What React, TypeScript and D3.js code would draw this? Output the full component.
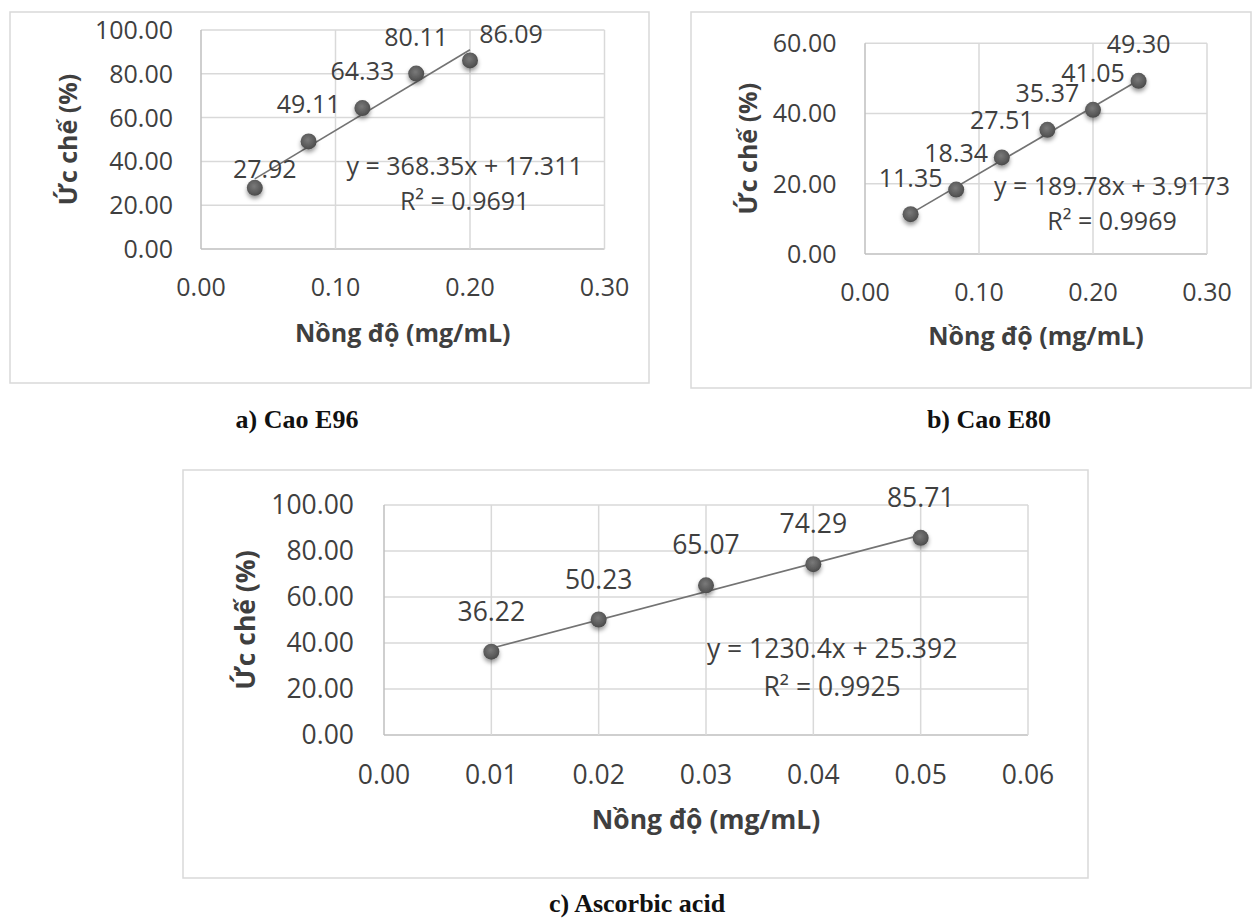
import React from "react";
import * as d3 from "d3";

// ---------- data ----------
const xA = [0.04, 0.08, 0.12, 0.16, 0.2];
const yA = [27.92, 49.11, 64.33, 80.11, 86.09];
const xTicksA = [0, 0.1, 0.2, 0.3];
const yTicksA = [0, 20, 40, 60, 80, 100];
const fitA = { slope: 368.35, intercept: 17.311 };
const eqA = ["y = 368.35x + 17.311", "R² = 0.9691"];
const captionA = "a) Cao E96";

const xB = [0.04, 0.08, 0.12, 0.16, 0.2, 0.24];
const yB = [11.35, 18.34, 27.51, 35.37, 41.05, 49.3];
const xTicksB = [0, 0.1, 0.2, 0.3];
const yTicksB = [0, 20, 40, 60];
const fitB = { slope: 189.78, intercept: 3.9173 };
const eqB = ["y = 189.78x + 3.9173", "R² = 0.9969"];
const captionB = "b) Cao E80";

const xC = [0.01, 0.02, 0.03, 0.04, 0.05];
const yC = [36.22, 50.23, 65.07, 74.29, 85.71];
const xTicksC = [0, 0.01, 0.02, 0.03, 0.04, 0.05, 0.06];
const yTicksC = [0, 20, 40, 60, 80, 100];
const fitC = { slope: 1230.4, intercept: 25.392 };
const eqC = ["y = 1230.4x + 25.392", "R² = 0.9925"];
const captionC = "c) Ascorbic acid";

const xTitle = "Nồng độ (mg/mL)";
const yTitle = "Ức chế (%)";

// ---------- layout (pixels) ----------
type Layout = {
  box: [number, number, number, number];
  plot: [number, number, number, number]; // left, top, right, bottom
  fs: number;
  yTickRight: number;
  xTickBase: number;
  xTitleBase: number;
  yTitleBase: number;
  labelOffsets: [number, number][];
  eqAt: [number, number]; // data coords for equation baseline
  eqGap: number;
  caption: [number, number];
};

const layoutA: Layout = {
  box: [10, 12, 649, 383],
  plot: [201, 30, 604.5, 249],
  fs: 25,
  yTickRight: 173,
  xTickBase: 296,
  xTitleBase: 342,
  yTitleBase: 77,
  labelOffsets: [[10, -10], [0, -28], [0, -28], [0, -28], [41, -17.5]],
  eqAt: [0.196, 33.8],
  eqGap: 35,
  caption: [297, 428],
};
const layoutB: Layout = {
  box: [691, 12, 1251, 388],
  plot: [865, 43.3, 1207, 254],
  fs: 25,
  yTickRight: 836.5,
  xTickBase: 301,
  xTitleBase: 345,
  yTitleBase: 756.5,
  labelOffsets: [[0, -27], [0, -27.5], [0, -28], [0, -28], [0, -28], [0, -27.7]],
  eqAt: [0.2167, 16.8],
  eqGap: 35,
  caption: [989, 428],
};
const layoutC: Layout = {
  box: [183, 470, 1088, 878],
  plot: [384, 505, 1028, 735],
  fs: 26.5,
  yTickRight: 354,
  xTickBase: 784,
  xTitleBase: 829,
  yTitleBase: 255,
  labelOffsets: [[0, -31], [0, -30.5], [0, -31], [0, -31], [0, -31]],
  eqAt: [0.04175, 33.6],
  eqGap: 38,
  caption: [637, 912],
};

const FONT = "'Open Sans', 'Noto Sans', sans-serif";
const TEXT = "#3f3f3f";
const GRID = "#d9d9d9";
const AXIS = "#bfbfbf";
const fmt2 = d3.format(".2f");

function Panel(props: {
  xs: number[];
  ys: number[];
  xTicks: number[];
  yTicks: number[];
  fit: { slope: number; intercept: number };
  eq: string[];
  caption: string;
  L: Layout;
}) {
  const { xs, ys, xTicks, yTicks, fit, eq, caption, L } = props;
  const [pl, pt, pr, pb] = L.plot;
  const x = d3.scaleLinear().domain([xTicks[0], xTicks[xTicks.length - 1]]).range([pl, pr]);
  const y = d3.scaleLinear().domain([yTicks[0], yTicks[yTicks.length - 1]]).range([pb, pt]);
  const x0 = d3.min(xs)!;
  const x1 = d3.max(xs)!;
  const trend = d3.line<number>()
    .x((d) => x(d))
    .y((d) => y(fit.slope * d + fit.intercept))([x0, x1]);
  const [bx0, by0, bx1, by1] = L.box;
  const cx = (pl + pr) / 2;
  const cy = (pt + pb) / 2;
  return (
    <g>
      <rect x={bx0} y={by0} width={bx1 - bx0} height={by1 - by0} fill="#fff" stroke="#d9d9d9" strokeWidth={1.5} />
      {/* grid */}
      {yTicks.map((t) => (
        <line key={"gy" + t} x1={pl} x2={pr} y1={y(t)} y2={y(t)} stroke={t === yTicks[0] ? AXIS : GRID} strokeWidth={1.5} />
      ))}
      {xTicks.map((t) => (
        <line key={"gx" + t} x1={x(t)} x2={x(t)} y1={pt} y2={pb} stroke={t === xTicks[0] ? AXIS : GRID} strokeWidth={1.5} />
      ))}
      {/* tick labels */}
      {yTicks.map((t) => (
        <text key={"ty" + t} x={L.yTickRight} y={y(t)} dy="0.357em" textAnchor="end" fontSize={L.fs} fill={TEXT}>
          {fmt2(t)}
        </text>
      ))}
      {xTicks.map((t) => (
        <text key={"tx" + t} x={x(t)} y={L.xTickBase} textAnchor="middle" fontSize={L.fs} fill={TEXT}>
          {fmt2(t)}
        </text>
      ))}
      {/* titles */}
      <text x={cx} y={L.xTitleBase} textAnchor="middle" fontSize={L.fs} fontWeight="bold" fill={TEXT}>
        {xTitle}
      </text>
      <text
        transform={`translate(${L.yTitleBase},${cy}) rotate(-90)`}
        textAnchor="middle"
        fontSize={L.fs}
        fontWeight="bold"
        fill={TEXT}
      >
        {yTitle}
      </text>
      {/* trendline */}
      <path d={trend!} fill="none" stroke="#737373" strokeWidth={1.6} />
      {/* markers */}
      {xs.map((d, i) => (
        <circle key={"m" + i} cx={x(d)} cy={y(ys[i])} r={8} fill="url(#mk)" filter="url(#sh)" />
      ))}
      {/* data labels */}
      {xs.map((d, i) => (
        <text
          key={"l" + i}
          x={x(d) + L.labelOffsets[i][0]}
          y={y(ys[i]) + L.labelOffsets[i][1]}
          textAnchor="middle"
          fontSize={L.fs}
          fill={TEXT}
        >
          {fmt2(ys[i])}
        </text>
      ))}
      {/* equation */}
      {eq.map((s, i) => (
        <text key={"e" + i} x={x(L.eqAt[0])} y={y(L.eqAt[1]) + i * L.eqGap} textAnchor="middle" fontSize={L.fs} fill={TEXT}>
          {s}
        </text>
      ))}
      {/* caption */}
      <text
        x={L.caption[0]}
        y={L.caption[1]}
        textAnchor="middle"
        fontFamily="'Liberation Serif', 'Times New Roman', serif"
        fontWeight="bold"
        fontSize={26}
        fill="#111"
      >
        {caption}
      </text>
    </g>
  );
}

export default function App() {
  return (
    <svg
      width={1254}
      height={920}
      style={{ position: "absolute", left: 0, top: 0, background: "#fff" }}
      fontFamily={FONT}
    >
      <defs>
        <radialGradient id="mk" cx="45%" cy="40%" r="60%">
          <stop offset="0%" stopColor="#7a7a7a" />
          <stop offset="70%" stopColor="#5a5a5a" />
          <stop offset="100%" stopColor="#4a4a4a" />
        </radialGradient>
        <filter id="sh" x="-50%" y="-50%" width="200%" height="220%">
          <feDropShadow dx="0" dy="3" stdDeviation="2" floodColor="#000" floodOpacity="0.4" />
        </filter>
      </defs>
      <rect width={1254} height={920} fill="#fff" />
      <Panel xs={xA} ys={yA} xTicks={xTicksA} yTicks={yTicksA} fit={fitA} eq={eqA} caption={captionA} L={layoutA} />
      <Panel xs={xB} ys={yB} xTicks={xTicksB} yTicks={yTicksB} fit={fitB} eq={eqB} caption={captionB} L={layoutB} />
      <Panel xs={xC} ys={yC} xTicks={xTicksC} yTicks={yTicksC} fit={fitC} eq={eqC} caption={captionC} L={layoutC} />
    </svg>
  );
}
